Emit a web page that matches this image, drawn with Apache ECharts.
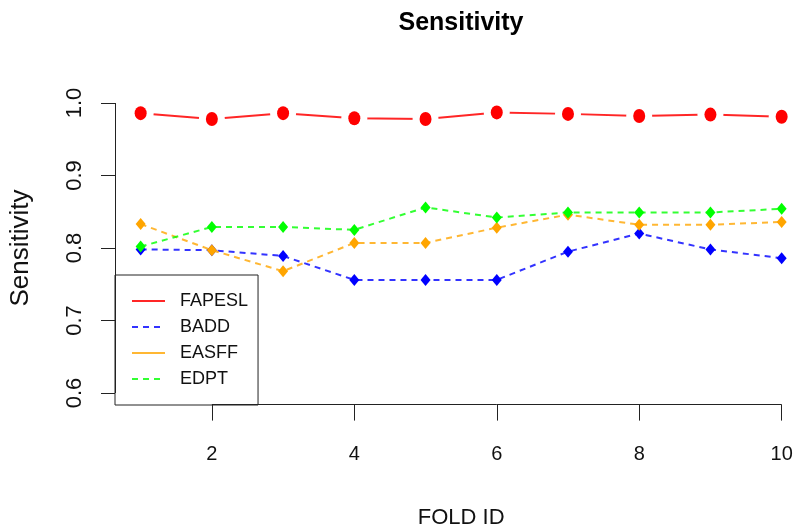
<!DOCTYPE html>
<html><head><meta charset="utf-8">
<script src="https://cdn.jsdelivr.net/npm/echarts@6/dist/echarts.min.js"></script>
<style>html,body{margin:0;padding:0;background:#fff}#c{width:796px;height:531px}</style>
</head><body><div id="c"></div>
<script>
const foldIds = [1, 2, 3, 4, 5, 6, 7, 8, 9, 10];
const fapesl = [0.986, 0.978, 0.986, 0.979, 0.978, 0.987, 0.985, 0.982, 0.984, 0.981];
const badd   = [0.798, 0.797, 0.789, 0.756, 0.756, 0.756, 0.795, 0.820, 0.798, 0.786];
const easff  = [0.833, 0.797, 0.768, 0.807, 0.807, 0.828, 0.846, 0.832, 0.832, 0.836];
const edpt   = [0.802, 0.829, 0.829, 0.825, 0.856, 0.842, 0.849, 0.849, 0.849, 0.854];
const xTicks = [2, 4, 6, 8, 10];
const xTickLabels = ['2', '4', '6', '8', '10'];
const yTicks = [0.6, 0.7, 0.8, 0.9, 1.0];
const yTickLabels = ['0.6', '0.7', '0.8', '0.9', '1.0'];
const seriesNames = ['FAPESL', 'BADD', 'EASFF', 'EDPT'];

// R-style axis extents (range extended by 4%)
const xMin = 1 - 0.04 * 9, xMax = 10 + 0.04 * 9;
const yMin = 0.6 - 0.04 * 0.4, yMax = 1.0 + 0.04 * 0.4;

const FONT = 'Liberation Sans, Arial, Helvetica, sans-serif';
const pairs = vals => foldIds.map((x, i) => [x, vals[i]]);
const lookup = (ticks, labels, v) => {
  const i = ticks.findIndex(t => Math.abs(t - v) < 1e-9);
  return i >= 0 ? labels[i] : '';
};

const chart = echarts.init(document.getElementById('c'), null, {renderer: 'canvas'});

function dashed(name, data, color, z) {
  return {
    name, type: 'line', data: pairs(data), z,
    symbol: 'diamond', symbolSize: [10, 12], showAllSymbol: true,
    itemStyle: {color, opacity: 1},
    lineStyle: {color, width: 2, type: [6, 5], opacity: 0.8},
    emphasis: {disabled: true}
  };
}

chart.setOption({
  animation: false,
  backgroundColor: '#fff',
  grid: {left: 115, right: -11.3, top: 91.4, bottom: 126.4, containLabel: false, outerBoundsMode: 'none'},
  graphic: [{
    type: 'text', x: 461, y: 23,
    style: {text: 'Sensitivity', font: 'bold 25px ' + FONT, fill: '#000',
            align: 'center', verticalAlign: 'middle', textAlign: 'center', textVerticalAlign: 'middle'}
  }],
  legend: {
    data: [
      {name: seriesNames[0]},
      {name: seriesNames[1]},
      {name: seriesNames[2], lineStyle: {type: 'solid'}},
      {name: seriesNames[3]}
    ],
    orient: 'vertical', left: 115, top: 275,
    padding: [17, 10, 17, 16],
    itemWidth: 33, itemHeight: 18, itemGap: 8,
    borderColor: '#222', borderWidth: 1, borderRadius: 0,
    backgroundColor: '#fff',
    selectedMode: false,
    itemStyle: {opacity: 0},
    textStyle: {fontFamily: FONT, fontSize: 18, color: '#111', padding: [0, 0, 0, 10]}
  },
  xAxis: {
    type: 'value', min: xMin, max: xMax,
    axisLine: {show: false}, splitLine: {show: false},
    axisTick: {show: true, customValues: xTicks, length: 16, lineStyle: {color: '#222', width: 1}},
    axisLabel: {customValues: xTicks, formatter: v => lookup(xTicks, xTickLabels, v),
                margin: 50, verticalAlign: 'middle', fontFamily: FONT, fontSize: 20, color: '#111'},
    name: 'FOLD ID', nameLocation: 'middle', nameGap: 113,
    nameTextStyle: {fontFamily: FONT, fontSize: 22, color: '#111', verticalAlign: 'middle'}
  },
  yAxis: {
    type: 'value', min: yMin, max: yMax,
    axisLine: {show: false}, splitLine: {show: false},
    axisTick: {show: true, customValues: yTicks, length: 14, lineStyle: {color: '#222', width: 1}},
    axisLabel: {customValues: yTicks, formatter: v => lookup(yTicks, yTickLabels, v),
                rotate: 90, margin: 40, align: 'center', verticalAlign: 'middle',
                fontFamily: FONT, fontSize: 22, color: '#111'},
    name: 'Sensitivity', nameLocation: 'middle', nameGap: 94, nameRotate: 90,
    nameTextStyle: {fontFamily: FONT, fontSize: 26, color: '#111', verticalAlign: 'middle'}
  },
  series: [
    {
      name: 'FAPESL', type: 'line', data: pairs(fapesl), z: 2,
      symbol: 'circle', showSymbol: false,
      itemStyle: {color: '#ff0000'},
      lineStyle: {color: '#ff0000', width: 2, type: 'solid', opacity: 0.85},
      emphasis: {disabled: true}
    },
    {
      name: 'FAPESL gap', type: 'scatter', data: pairs(fapesl), z: 3, silent: true,
      symbol: 'circle', symbolSize: 26, itemStyle: {color: '#ffffff', opacity: 1},
      emphasis: {disabled: true}
    },
    {
      name: 'FAPESL points', type: 'scatter', data: pairs(fapesl), z: 4, silent: true,
      symbol: 'circle', symbolSize: [12, 14], itemStyle: {color: '#ff0000', opacity: 1},
      emphasis: {disabled: true}
    },
    dashed('BADD', badd, '#0000ff', 5),
    dashed('EASFF', easff, '#ffa500', 6),
    dashed('EDPT', edpt, '#00ff00', 7),
    {
      name: 'axes', type: 'line', data: [], clip: false, silent: true, z: 1,
      markLine: {
        silent: true, symbol: 'none', animation: false,
        label: {show: false},
        lineStyle: {color: '#222', width: 1, type: 'solid'},
        emphasis: {disabled: true},
        data: [
          [{coord: [xMin, yTicks[0]]}, {coord: [xMin, yTicks[yTicks.length - 1]]}],
          [{coord: [xTicks[0], yMin]}, {coord: [xTicks[xTicks.length - 1], yMin]}]
        ]
      }
    }
  ]
});
</script>
</body></html>
